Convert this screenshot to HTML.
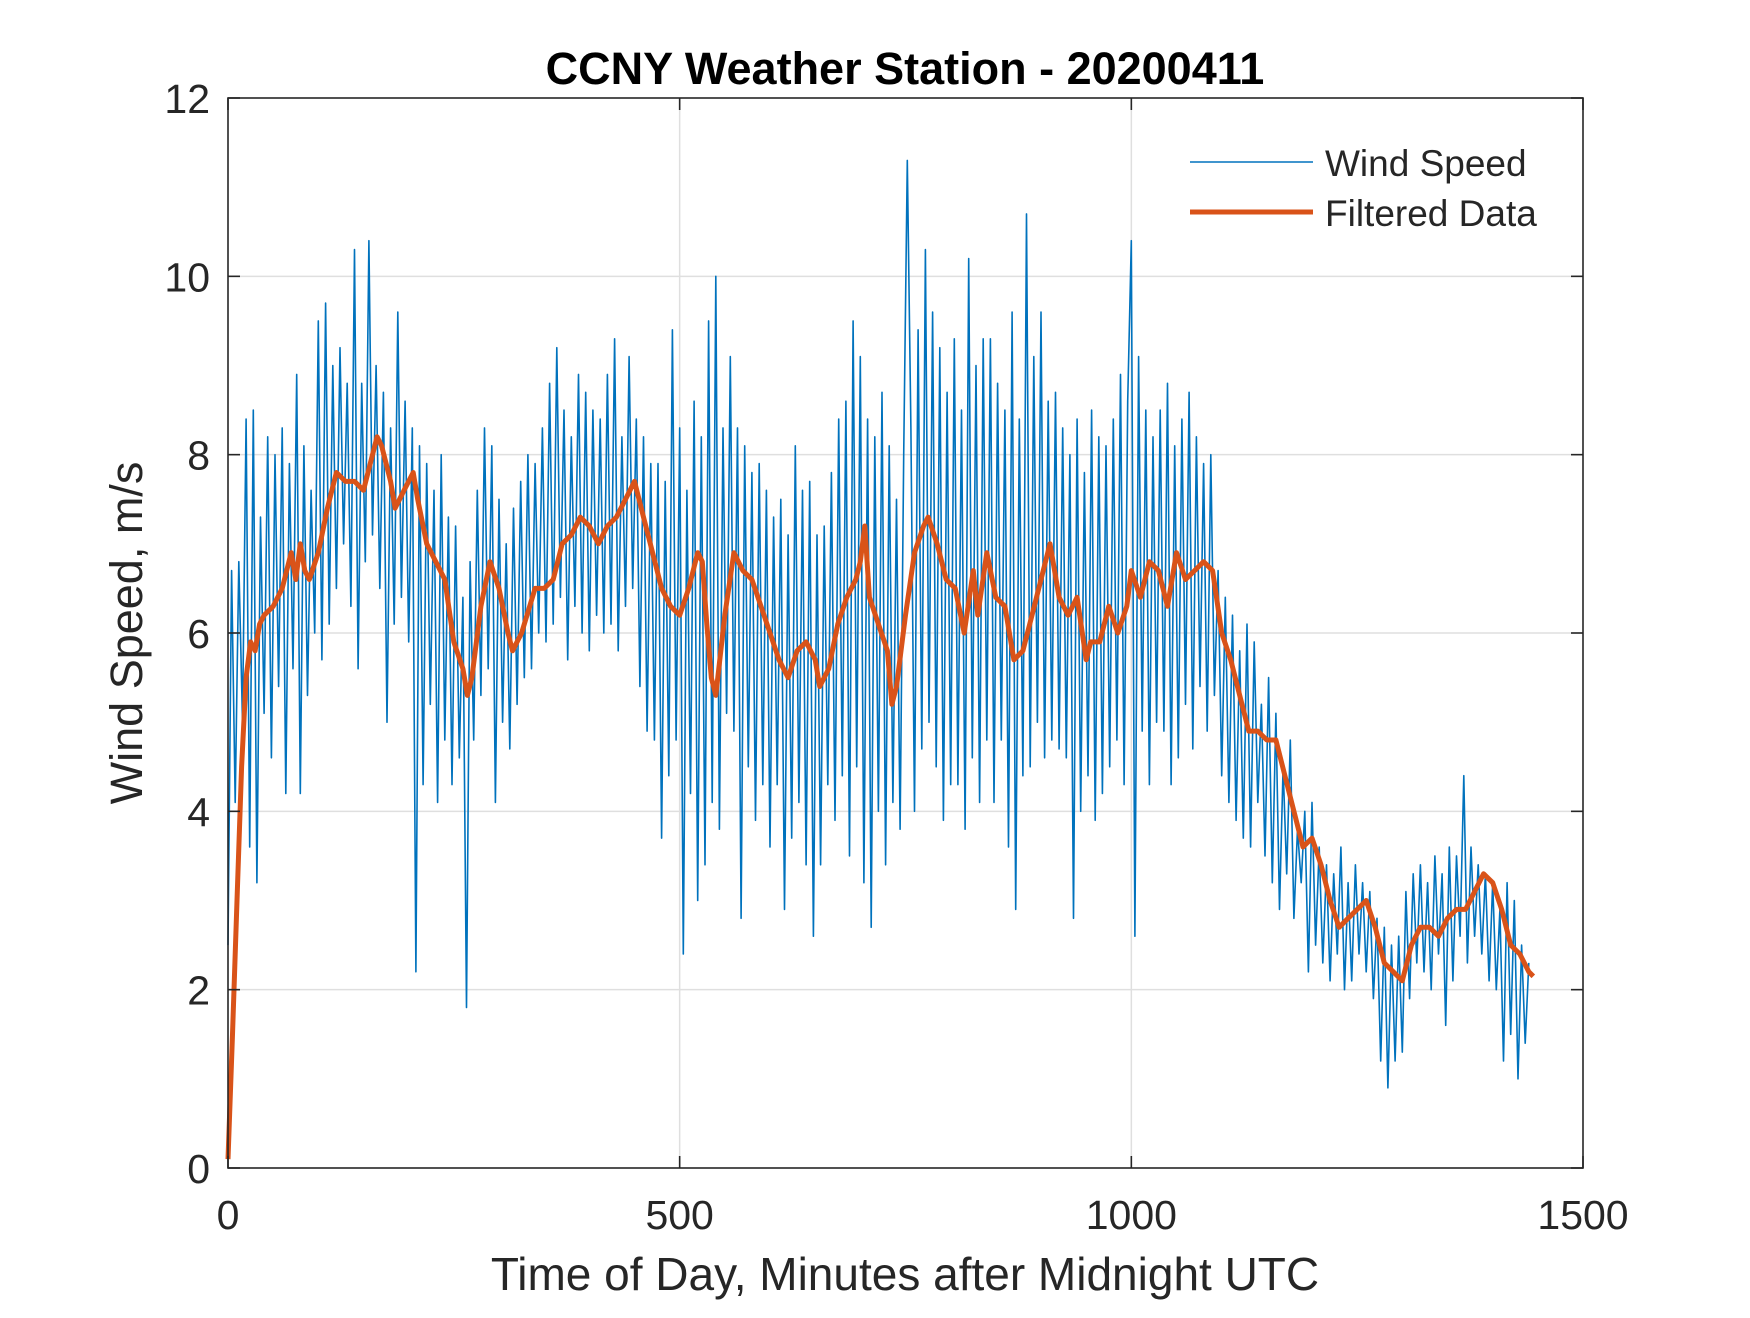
<!DOCTYPE html>
<html><head><meta charset="utf-8"><style>
html,body{margin:0;padding:0;background:#fff;}
svg text{font-family:"Liberation Sans",Arial,sans-serif;fill:#262626;}
</style></head><body>
<svg id="chart" width="1750" height="1313" viewBox="0 0 1750 1313" xmlns="http://www.w3.org/2000/svg">
<rect x="0" y="0" width="1750" height="1313" fill="#fff"/>
<g id="grid"></g>
<g id="series"></g>
<rect x="228" y="98" width="1355" height="1070" fill="none" stroke="#262626" stroke-width="1.6"/>
<g id="ticks"></g>
<text x="905" y="84" text-anchor="middle" font-size="45" font-weight="bold" style="fill:#000">CCNY Weather Station - 20200411</text>
<text x="905" y="1290" text-anchor="middle" font-size="46">Time of Day, Minutes after Midnight UTC</text>
<text x="0" y="0" transform="translate(142,633) rotate(-90)" text-anchor="middle" font-size="45">Wind Speed, m/s</text>
<g>
<line x1="1190" y1="162" x2="1313" y2="162" stroke="#0072BD" stroke-width="1.6"/>
<text x="1325" y="176" font-size="37">Wind Speed</text>
<line x1="1190" y1="212" x2="1313" y2="212" stroke="#D95319" stroke-width="5"/>
<text x="1325" y="226" font-size="37">Filtered Data</text>
</g>
</svg>
<script>
const xTicks = [0, 500, 1000, 1500];
const yTicks = [0, 2, 4, 6, 8, 10, 12];
const windStep = 4;
const windSpeed = [
2.5,6.7,4.1,6.8,5.0,8.4,3.6,8.5,3.2,7.3,
5.1,8.2,4.6,8.0,5.4,8.3,4.2,7.9,5.6,8.9,
4.2,8.1,5.3,7.6,6.0,9.5,5.7,9.7,6.1,9.0,
6.5,9.2,7.0,8.8,6.3,10.3,5.6,8.8,6.8,10.4,
7.1,9.0,6.5,8.7,5.0,8.3,6.1,9.6,6.4,8.6,
5.9,8.3,2.2,8.1,4.3,7.9,5.2,7.6,4.1,8.0,
4.8,7.3,4.3,7.2,4.6,6.4,1.8,6.8,4.8,7.6,
5.3,8.3,5.6,8.1,4.1,7.5,5.0,7.0,4.7,7.4,
5.2,7.7,5.5,8.0,5.6,7.9,6.0,8.3,5.9,8.8,
6.1,9.2,6.4,8.5,5.7,8.2,6.3,8.9,6.0,8.7,
5.8,8.5,6.2,8.4,6.0,8.9,6.1,9.3,5.8,8.2,
6.3,9.1,6.5,8.4,5.4,8.2,4.9,7.9,4.8,7.9,
3.7,7.7,4.4,9.4,4.8,8.3,2.4,7.6,4.2,8.6,
3.0,8.2,3.4,9.5,4.1,10.0,3.8,8.3,5.1,9.1,
4.9,8.3,2.8,8.1,4.5,7.8,3.9,7.9,4.3,7.6,
3.6,7.3,4.3,7.5,2.9,7.1,3.7,8.1,4.1,7.6,
3.4,7.7,2.6,7.1,3.4,7.2,4.3,7.8,3.9,8.4,
4.4,8.6,3.5,9.5,4.5,9.1,3.2,8.4,2.7,8.2,
4.0,8.7,3.4,8.1,4.1,7.5,3.8,8.0,11.3,8.3,
4.0,9.4,4.7,10.3,5.0,9.6,4.5,9.2,3.9,8.7,
4.3,9.3,4.3,8.5,3.8,10.2,4.6,9.0,4.1,9.3,
4.8,9.3,4.1,8.8,4.8,8.5,3.6,9.6,2.9,8.4,
4.4,10.7,4.5,9.1,5.0,9.6,4.6,8.6,4.8,8.7,
4.7,8.3,4.6,8.0,2.8,8.4,4.0,7.8,4.4,8.5,
3.9,8.2,4.2,8.1,4.5,8.4,4.8,8.9,4.3,8.6,
10.4,2.6,9.1,4.9,8.5,4.3,8.2,5.0,8.5,4.9,
8.8,4.3,8.1,4.6,8.4,5.2,8.7,4.7,8.2,5.4,
7.9,4.9,8.0,5.3,6.7,4.4,6.4,4.1,6.2,3.9,
5.8,3.7,6.1,3.6,5.9,4.1,5.2,3.5,5.5,3.2,
5.1,2.9,4.5,3.3,4.8,2.8,3.8,3.2,4.0,2.2,
4.1,2.5,3.6,2.3,3.4,2.1,3.3,2.4,3.6,2.0,
3.2,2.1,3.4,2.4,3.2,2.2,3.1,1.9,2.8,1.2,
2.7,0.9,2.5,1.2,2.6,1.3,3.1,1.9,3.3,2.3,
3.4,2.2,3.2,2.0,3.5,2.4,3.3,1.6,3.6,2.1,
3.5,2.6,4.4,2.3,3.6,2.6,3.4,2.4,3.3,2.1,
3.2,2.0,2.9,1.2,3.2,1.5,3.0,1.0,2.5,1.4,
2.3];
const filteredMinutes = [0,5,10,15,20,25,30,35,40,50,60,70,75,80,85,90,100,110,120,130,140,150,160,165,170,180,185,195,205,210,220,230,240,250,260,265,270,280,290,300,310,315,325,340,350,360,370,380,390,400,410,420,430,440,450,460,470,480,490,500,510,520,525,530,535,540,550,560,570,580,590,600,610,620,630,640,650,655,665,675,685,695,700,705,710,720,730,735,740,750,760,770,775,785,795,805,815,825,830,840,850,860,870,880,890,900,910,920,930,940,950,955,965,975,985,995,1000,1010,1020,1030,1040,1050,1060,1070,1080,1090,1100,1110,1120,1130,1140,1150,1160,1170,1180,1190,1200,1210,1220,1230,1240,1250,1260,1270,1280,1290,1300,1310,1320,1330,1340,1350,1360,1370,1380,1390,1400,1410,1420,1430,1440,1445];
const filteredValues = [0.1,1.5,3,4.5,5.5,5.9,5.8,6.1,6.2,6.3,6.5,6.9,6.6,7.0,6.7,6.6,6.9,7.4,7.8,7.7,7.7,7.6,8.0,8.2,8.1,7.7,7.4,7.6,7.8,7.5,7.0,6.8,6.6,5.9,5.6,5.3,5.5,6.3,6.8,6.5,6.0,5.8,6.0,6.5,6.5,6.6,7.0,7.1,7.3,7.2,7.0,7.2,7.3,7.5,7.7,7.3,6.9,6.5,6.3,6.2,6.5,6.9,6.8,6.1,5.5,5.3,6.2,6.9,6.7,6.6,6.3,6.0,5.7,5.5,5.8,5.9,5.7,5.4,5.6,6.1,6.4,6.6,6.8,7.2,6.4,6.1,5.8,5.2,5.4,6.2,6.9,7.2,7.3,7.0,6.6,6.5,6.0,6.7,6.2,6.9,6.4,6.3,5.7,5.8,6.2,6.6,7.0,6.4,6.2,6.4,5.7,5.9,5.9,6.3,6.0,6.3,6.7,6.4,6.8,6.7,6.3,6.9,6.6,6.7,6.8,6.7,6.0,5.7,5.3,4.9,4.9,4.8,4.8,4.4,4.0,3.6,3.7,3.4,3.0,2.7,2.8,2.9,3.0,2.7,2.3,2.2,2.1,2.5,2.7,2.7,2.6,2.8,2.9,2.9,3.1,3.3,3.2,2.9,2.5,2.4,2.2,2.15];

const X0=228, X1=1583, Y0=1168, Y1=98;
const xMin=0,xMax=1500,yMin=0,yMax=12;
function xs(v){return X0+(v-xMin)/(xMax-xMin)*(X1-X0);}
function ys(v){return Y0-(v-yMin)/(yMax-yMin)*(Y0-Y1);}
const NS='http://www.w3.org/2000/svg';
const grid=document.getElementById('grid'), ticks=document.getElementById('ticks'), series=document.getElementById('series');
function mk(tag,attrs,parent){const e=document.createElementNS(NS,tag);for(const k in attrs)e.setAttribute(k,attrs[k]);parent.appendChild(e);return e;}

xTicks.forEach(t=>{
  const x=xs(t);
  if(t>xMin&&t<xMax){const g=mk('line',{x1:x,y1:Y1,x2:x,y2:Y0,stroke:'#dfdfdf','stroke-width':1.5},grid);
  
  }
  const a=mk('line',{x1:x,y1:Y0,x2:x,y2:Y0-12,stroke:'#262626','stroke-width':1.6},ticks);
  
  
  const b=mk('line',{x1:x,y1:Y1,x2:x,y2:Y1+12,stroke:'#262626','stroke-width':1.6},ticks);
  
  
  const tx=mk('text',{x:x,y:1229,'text-anchor':'middle','font-size':41},ticks);
  tx.textContent=t;
  
  
});
yTicks.forEach(t=>{
  const y=ys(t);
  if(t>yMin&&t<yMax){const g=mk('line',{x1:X0,y1:y,x2:X1,y2:y,stroke:'#dfdfdf','stroke-width':1.5},grid);
  
  }
  const a=mk('line',{x1:X0,y1:y,x2:X0+12,y2:y,stroke:'#262626','stroke-width':1.6},ticks);
  
  
  const b=mk('line',{x1:X1,y1:y,x2:X1-12,y2:y,stroke:'#262626','stroke-width':1.6},ticks);
  
  
  const tx=mk('text',{x:210,y:y+15,'text-anchor':'end','font-size':41},ticks);
  tx.textContent=t;
  
  
});

const wp=windSpeed.map((v,i)=>xs(i*windStep).toFixed(1)+','+ys(v).toFixed(1)).join(' ');
const wl=mk('polyline',{points:wp,fill:'none',stroke:'#0072BD','stroke-width':1.6,'stroke-linejoin':'round'},series);


const fp=filteredValues.map((v,i)=>xs(filteredMinutes[i]).toFixed(1)+','+ys(v).toFixed(1)).join(' ');
const fl=mk('polyline',{points:fp,fill:'none',stroke:'#D95319','stroke-width':5,'stroke-linejoin':'round'},series);


</script>
</body></html>
